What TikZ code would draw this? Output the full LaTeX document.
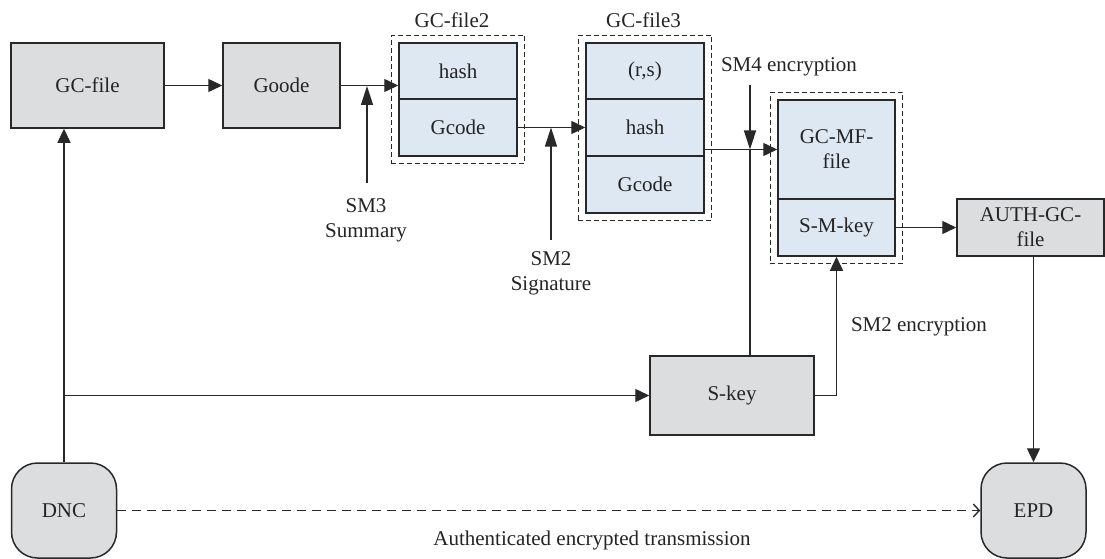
\documentclass[tikz,border=0pt]{standalone}
\usepackage{fontspec}
\setmainfont{Liberation Serif}
\usetikzlibrary{arrows.meta,fit,positioning}
\definecolor{boxgray}{RGB}{220,221,223}
\definecolor{cellblue}{RGB}{221,232,243}
\definecolor{ink}{RGB}{40,40,40}
\begin{document}
\begin{tikzpicture}[x=1pt,y=-1pt,
  every node/.style={font=\fontsize{21}{25}\selectfont, text=ink!90!black, inner sep=0pt, align=center},
  graybox/.style={draw=ink, line width=1.5pt, fill=boxgray},
  cell/.style={draw=ink, line width=1.5pt, fill=cellblue, minimum width=118pt},
  roundbox/.style={draw=ink, line width=1.5pt, fill=boxgray, rounded corners=26pt, minimum width=105pt, minimum height=95pt},
  group/.style={draw=ink, line width=1.3pt, dash pattern=on 5pt off 3pt, inner sep=7pt},
  conn/.style={draw=ink, line width=1.4pt},
  arr/.style={conn, -{Triangle[length=14pt,width=13pt]}},
  notearr/.style={conn, -{Triangle[length=19pt,width=12pt]}},
  dasharr/.style={conn, dash pattern=on 9pt off 6pt, -{Straight Barb[length=6pt,width=13pt]}},
  lbl/.style={}
]
\useasboundingbox (0,0) rectangle (1105,559);
% main boxes
\node[graybox, minimum width=153pt, minimum height=85pt] (gc) at (87.5,85.5) {GC-file};
\node[graybox, minimum width=117pt, minimum height=85pt] (goode) at (281.5,85.5) {Goode};
% GC-file2
\node[cell, minimum height=56pt] (h2) at (458,71) {hash};
\node[cell, minimum height=57pt] (g2) at (458,127.5) {Gcode};
\node[group, fit=(h2)(g2)] (f2) {};
\node (t2) at (452,20) {GC-file2};
% GC-file3
\node[cell, minimum height=56pt] (rs3) at (645,71) {(r,s)};
\node[cell, minimum height=57pt] (h3) at (645,127.5) {hash};
\node[cell, minimum height=57pt] (g3) at (645,184.5) {Gcode};
\node[group, fit=(rs3)(h3)(g3)] (f3) {};
\node (t3) at (643.5,20) {GC-file3};
% GC-MF-file
\node[cell, minimum width=117pt, minimum height=99pt] (mf) at (836.5,149.5) {GC-MF-\\file};
\node[cell, minimum width=117pt, minimum height=57pt] (smk) at (836.5,227.5) {S-M-key};
\node[group, fit=(mf)(smk)] (fm) {};
% right side
\node[graybox, minimum width=147pt, minimum height=57pt] (auth) at (1030.5,227.5) {AUTH-GC-\\file};
\node[graybox, minimum width=164pt, minimum height=79pt] (skey) at (732,395.5) {S-key};
\node[roundbox] (dnc) at (64,510.5) {DNC};
\node[roundbox] (epd) at (1033.5,510.5) {EPD};
% labels
\node[lbl] (l3) at (366,220.5) {SM3\\Summary};
\node[lbl] (l2) at (551,273) {SM2\\Signature};
\node[lbl] (l4) at (789,67) {SM4 encryption};
\node[lbl] (l2e) at (919,327) {SM2 encryption};
\node[lbl] (lt) at (592,540) {Authenticated encrypted transmission};
% coordinates
\coordinate (sm3top) at (367,86);
\coordinate (sm3bot) at (367,183);
\coordinate (sm2top) at (551,127.5);
\coordinate (sm2bot) at (551,240);
\coordinate (j4) at (750,149.5);
\coordinate (sm4top) at (750,85);
\coordinate (jd) at (64,395.5);
% connectors
\draw[arr] (gc.east) -- (goode.east -| goode.west);
\draw[arr] (goode.east) -- (goode.east -| h2.west);
\draw[notearr] (sm3bot) -- (sm3top);
\draw[arr] (g2.east) -- (h3.west);
\draw[notearr] (sm2bot) -- (sm2top);
\draw[arr] (h3.east |- mf.west) -- (mf.west);
\draw[notearr] (sm4top) -- (j4);
\draw[conn] (j4 |- skey.north) -- (j4);
\draw[arr] (smk.east) -- (auth.west);
\draw[arr] (skey.east) -| (smk.south);
\draw[arr] (dnc.north) -- (dnc.north |- gc.south);
\draw[arr] (jd) -- (skey.west);
\draw[arr] (epd.north |- auth.south) -- (epd.north);
\draw[dasharr] (dnc.east) -- (epd.west);
\end{tikzpicture}
\end{document}
